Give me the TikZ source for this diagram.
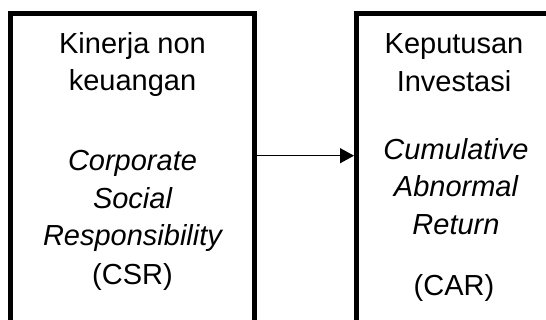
\documentclass[tikz,border=0pt]{standalone}
\usepackage{fontspec}
\setmainfont{Liberation Sans}
\usetikzlibrary{arrows.meta}
\tikzset{
  framebox/.style={draw=black, line width=5pt, rectangle, inner sep=0pt, fill=none},
  txt/.style={anchor=base, inner sep=0pt, font=\fontsize{29}{35}\selectfont},
  itxt/.style={txt, font=\fontsize{29}{35}\selectfont\itshape},
  link/.style={line width=1.3pt, -{Triangle[length=14pt,width=15pt]}}
}
\begin{document}
\begin{tikzpicture}[x=1pt,y=-1pt]
\useasboundingbox (0,0) rectangle (546,320);
\clip (0,0) rectangle (546,320);
\fill[white] (0,0) rectangle (546,320);
\node[framebox, minimum width=244pt, minimum height=326.5pt] (left) at (132.5,176.75) {};
\node[framebox, minimum width=197pt, minimum height=326.5pt] (right) at (455,176.75) {};
% left texts
\node[txt] (l1) at (132.5,53.3) {Kinerja non};
\node[txt] (l2) at (132.5,91) {keuangan};
\node[itxt] (l3) at (132.5,171) {Corporate};
\node[itxt] (l4) at (132.5,208.5) {Social};
\node[itxt] (l5) at (132.5,246) {Responsibility};
\node[txt] (l6) at (132.5,285) {(CSR)};
% right texts
\node[txt] (r1) at (454,54) {Keputusan};
\node[txt] (r2) at (454,91.7) {Investasi};
\node[itxt] (r3) at (456,160) {Cumulative};
\node[itxt] (r4) at (456,197) {Abnormal};
\node[itxt] (r5) at (456,235) {Return};
\node[txt] (r6) at (454,296) {(CAR)};
% connector
\coordinate (ay) at (0,155.7);
\draw[link] (left.east |- ay) -- (right.west |- ay);
\end{tikzpicture}
\end{document}
